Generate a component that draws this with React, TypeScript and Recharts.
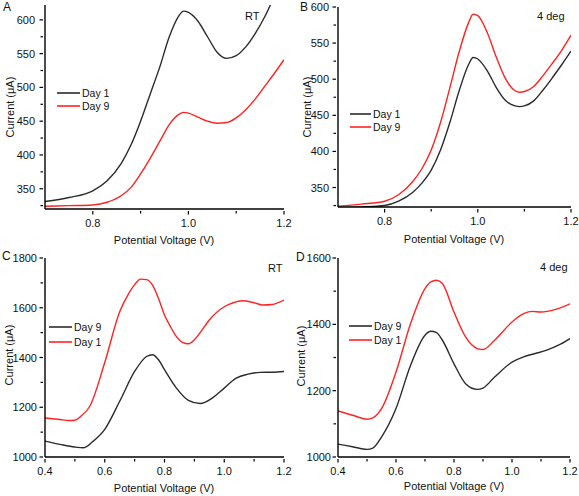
import React from 'react';
import { LineChart, Line, XAxis, YAxis } from 'recharts';

// ---------- Data ----------
// Panel A (RT, 0.7-1.2 V)
const aVolt = [0.70, 0.75, 0.80, 0.83, 0.86, 0.88, 0.90, 0.92, 0.94, 0.96, 0.98, 0.99, 1.00, 1.02, 1.04, 1.06, 1.08, 1.10, 1.12, 1.14, 1.16, 1.18, 1.20];
const aDay1 = [331, 337, 347, 362, 388, 415, 450, 490, 530, 575, 606, 613, 611, 598, 575, 552, 543, 547, 560, 580, 605, 635, 665];
const aDay9 = [324, 325, 326, 330, 340, 352, 372, 395, 420, 445, 460, 463, 462, 456, 450, 447, 448, 455, 467, 483, 502, 521, 541];

// Panel B (4 deg, 0.7-1.2 V)
const bVolt = [0.70, 0.75, 0.80, 0.83, 0.86, 0.88, 0.90, 0.92, 0.94, 0.96, 0.98, 0.99, 1.00, 1.02, 1.04, 1.06, 1.08, 1.09, 1.10, 1.12, 1.14, 1.16, 1.18, 1.20];
const bDay1 = [322, 323, 325, 331, 343, 356, 374, 402, 440, 484, 520, 530, 528, 512, 488, 470, 463, 462, 463, 470, 485, 502, 520, 539];
const bDay9 = [324, 327, 331, 340, 358, 376, 402, 440, 488, 538, 578, 590, 588, 565, 530, 500, 484, 482, 483, 490, 505, 522, 540, 561];

// Panel C (RT, 0.4-1.2 V)
const cVoltDay1 = [0.40, 0.45, 0.48, 0.50, 0.52, 0.55, 0.60, 0.65, 0.68, 0.70, 0.72, 0.74, 0.76, 0.78, 0.80, 0.82, 0.84, 0.86, 0.88, 0.90, 0.92, 0.95, 1.00, 1.03, 1.06, 1.10, 1.13, 1.16, 1.20];
const cDay1 = [1157, 1151, 1147, 1148, 1164, 1204, 1380, 1584, 1657, 1693, 1715, 1713, 1691, 1637, 1571, 1524, 1484, 1461, 1455, 1471, 1501, 1551, 1604, 1620, 1628, 1620, 1611, 1613, 1631];
const cVoltDay9 = [0.40, 0.45, 0.50, 0.53, 0.56, 0.60, 0.65, 0.70, 0.74, 0.76, 0.78, 0.80, 0.84, 0.88, 0.92, 0.96, 1.00, 1.04, 1.08, 1.12, 1.16, 1.20];
const cDay9 = [1064, 1051, 1040, 1037, 1062, 1111, 1224, 1344, 1404, 1411, 1391, 1351, 1277, 1228, 1215, 1237, 1277, 1317, 1333, 1340, 1341, 1344];

// Panel D (4 deg, 0.4-1.2 V)
const dVoltDay1 = [0.40, 0.45, 0.50, 0.52, 0.55, 0.60, 0.65, 0.70, 0.72, 0.74, 0.76, 0.80, 0.84, 0.88, 0.90, 0.94, 1.00, 1.04, 1.07, 1.10, 1.15, 1.20];
const dDay1 = [1139, 1126, 1114, 1118, 1146, 1256, 1402, 1508, 1528, 1533, 1523, 1437, 1362, 1327, 1324, 1352, 1407, 1432, 1439, 1437, 1445, 1462];
const dVoltDay9 = [0.40, 0.45, 0.50, 0.52, 0.55, 0.60, 0.65, 0.70, 0.72, 0.74, 0.76, 0.80, 0.84, 0.88, 0.90, 0.94, 1.00, 1.04, 1.08, 1.12, 1.16, 1.20];
const dDay9 = [1039, 1031, 1023, 1027, 1060, 1146, 1276, 1367, 1379, 1375, 1352, 1281, 1221, 1204, 1208, 1241, 1286, 1302, 1312, 1322, 1337, 1357];

// Ticks
const xTicksAB = [0.8, 0.9, 1.0, 1.1, 1.2];
const xMajorAB = [0.8, 1.0, 1.2];
const xTicksCD = [0.4, 0.5, 0.6, 0.7, 0.8, 0.9, 1.0, 1.1, 1.2];
const xMajorCD = [0.4, 0.6, 0.8, 1.0, 1.2];
const yTicksAB = [325, 350, 375, 400, 425, 450, 475, 500, 525, 550, 575, 600];
const yMajorAB = [350, 400, 450, 500, 550, 600];
const yTicksC = [1000, 1100, 1200, 1300, 1400, 1500, 1600, 1700, 1800];
const yMajorC = [1000, 1200, 1400, 1600, 1800];
const yTicksD = [1000, 1100, 1200, 1300, 1400, 1500, 1600];
const yMajorD = [1000, 1200, 1400, 1600];

const panelLetters = ['A', 'B', 'C', 'D'];
const conditions = ['RT', '4 deg', 'RT', '4 deg'];
const xTitle = 'Potential Voltage (V)';
const yTitle = 'Current (\u03bcA)';

const BLACK = '#2b2b2b';
const RED = '#ff2222';
const FONT = '"Liberation Sans", Arial, sans-serif';

type Series = { name: string; color: string; x: number[]; y: number[] };

const isIn = (arr: number[], v: number) => arr.some((m) => Math.abs(m - v) < 1e-6);

function Panel(props: {
  left: number; top: number; width: number; height: number;
  margin: { top: number; right: number; left: number; bottom: number };
  yWidth: number; xHeight: number;
  xDomain: [number, number]; xTicks: number[]; xMajor: number[];
  yDomain: [number, number]; yTicks: number[]; yMajor: number[];
  yGap: number;
  series: Series[];
}) {
  const { left, top, width, height, margin, yWidth, xHeight, xDomain, xTicks, xMajor, yDomain, yTicks, yMajor, yGap, series } = props;
  const renderX = (p: any) => {
    const { x, y, payload } = p;
    const v = payload.value;
    const major = isIn(xMajor, v);
    return (
      <g>
        <line x1={x} x2={x} y1={y} y2={y + (major ? 3.5 : 2.5)} stroke="#000" strokeWidth={1.2} />
        {major && (
          <text x={x} y={y + 15.5} textAnchor="middle" fontSize={11} fontFamily={FONT} fill="#111">
            {v.toFixed(1)}
          </text>
        )}
      </g>
    );
  };
  const renderY = (p: any) => {
    const { x, y, payload } = p;
    const v = payload.value;
    const major = isIn(yMajor, v);
    return (
      <g>
        <line x1={x - (major ? 3.5 : 2.5)} x2={x} y1={y} y2={y} stroke="#000" strokeWidth={1.2} />
        {major && (
          <text x={x - yGap} y={y + 4} textAnchor="end" fontSize={11} fontFamily={FONT} fill="#111">
            {String(v)}
          </text>
        )}
      </g>
    );
  };
  const axisLine = { stroke: '#000', strokeWidth: 1.4 };
  return (
    <div style={{ position: 'absolute', left, top }}>
      <LineChart width={width} height={height} margin={margin}>
        <XAxis xAxisId="b" type="number" dataKey="x" domain={xDomain} ticks={xTicks} interval={0}
          allowDataOverflow tick={renderX} tickLine={false} tickSize={0} height={xHeight} axisLine={axisLine} />
        <XAxis xAxisId="t" orientation="top" type="number" dataKey="x" domain={xDomain} allowDataOverflow
          height={0} tick={false} tickLine={false} axisLine={axisLine} />
        <YAxis yAxisId="l" type="number" domain={yDomain} ticks={yTicks} interval={0}
          allowDataOverflow tick={renderY} tickLine={false} tickSize={0} width={yWidth} axisLine={axisLine} />
        <YAxis yAxisId="r" orientation="right" type="number" domain={yDomain} allowDataOverflow
          width={0} tick={false} tickLine={false} axisLine={axisLine} />
        {series.map((s) => (
          <Line key={s.name} xAxisId="b" yAxisId="l" name={s.name}
            data={s.x.map((v, i) => ({ x: v, y: s.y[i] }))}
            dataKey="y" type="monotone" stroke={s.color} strokeWidth={1.4} dot={false}
            isAnimationActive={false} />
        ))}
      </LineChart>
    </div>
  );
}

function Legend({ x1, x2, y, gap, items }: { x1: number; x2: number; y: number; gap: number; items: Series[] }) {
  return (
    <g>
      {items.map((s, i) => (
        <g key={s.name}>
          <line x1={x1} x2={x2} y1={y + i * gap} y2={y + i * gap} stroke={s.color} strokeWidth={1.6} />
          <text x={x2 + 2} y={y + i * gap + 4} fontSize={10.5} fontFamily={FONT} fill="#111">{s.name}</text>
        </g>
      ))}
    </g>
  );
}

export default function App() {
  const aSeries: Series[] = [
    { name: 'Day 1', color: BLACK, x: aVolt, y: aDay1 },
    { name: 'Day 9', color: RED, x: aVolt, y: aDay9 },
  ];
  const bSeries: Series[] = [
    { name: 'Day 1', color: BLACK, x: bVolt, y: bDay1 },
    { name: 'Day 9', color: RED, x: bVolt, y: bDay9 },
  ];
  const cSeries: Series[] = [
    { name: 'Day 9', color: BLACK, x: cVoltDay9, y: cDay9 },
    { name: 'Day 1', color: RED, x: cVoltDay1, y: cDay1 },
  ];
  const dSeries: Series[] = [
    { name: 'Day 9', color: BLACK, x: dVoltDay9, y: dDay9 },
    { name: 'Day 1', color: RED, x: dVoltDay1, y: dDay1 },
  ];
  return (
    <div style={{ position: 'absolute', left: 0, top: 0, width: 579, height: 496, background: '#fff', fontFamily: FONT, overflow: 'hidden' }}>
      <Panel left={0} top={0} width={300} height={250} margin={{ top: 5, right: 16, left: 0, bottom: 0 }}
        yWidth={45} xHeight={41} xDomain={[0.7, 1.2]} xTicks={xTicksAB} xMajor={xMajorAB}
        yDomain={[320, 622]} yTicks={yTicksAB} yMajor={yMajorAB} yGap={8} series={aSeries} />
      <Panel left={289} top={0} width={290} height={250} margin={{ top: 7, right: 8, left: 0, bottom: 0 }}
        yWidth={49} xHeight={43} xDomain={[0.7, 1.2]} xTicks={xTicksAB} xMajor={xMajorAB}
        yDomain={[323, 600]} yTicks={yTicksAB} yMajor={yMajorAB} yGap={7} series={bSeries} />
      <Panel left={0} top={245} width={300} height={251} margin={{ top: 13, right: 16, left: 0, bottom: 0 }}
        yWidth={45} xHeight={39} xDomain={[0.4, 1.2]} xTicks={xTicksCD} xMajor={xMajorCD}
        yDomain={[1000, 1800]} yTicks={yTicksC} yMajor={yMajorC} yGap={6} series={cSeries} />
      <Panel left={289} top={245} width={290} height={251} margin={{ top: 13, right: 9, left: 0, bottom: 0 }}
        yWidth={49} xHeight={39} xDomain={[0.4, 1.2]} xTicks={xTicksCD} xMajor={xMajorCD}
        yDomain={[1000, 1600]} yTicks={yTicksD} yMajor={yMajorD} yGap={5} series={dSeries} />

      <svg width={579} height={496} style={{ position: 'absolute', left: 0, top: 0, pointerEvents: 'none' }}>
        {/* panel letters */}
        <text x={3} y={11} fontSize={12} fontFamily={FONT} fill="#111">{panelLetters[0]}</text>
        <text x={300} y={11} fontSize={12} fontFamily={FONT} fill="#111">{panelLetters[1]}</text>
        <text x={2} y={260} fontSize={12} fontFamily={FONT} fill="#111">{panelLetters[2]}</text>
        <text x={296} y={261} fontSize={12} fontFamily={FONT} fill="#111">{panelLetters[3]}</text>

        {/* condition annotations */}
        <text x={245} y={19.5} fontSize={11} fontFamily={FONT} fill="#111">{conditions[0]}</text>
        <text x={537} y={19.5} fontSize={11} fontFamily={FONT} fill="#111">{conditions[1]}</text>
        <text x={268} y={272} fontSize={11} fontFamily={FONT} fill="#111">{conditions[2]}</text>
        <text x={540} y={271} fontSize={11} fontFamily={FONT} fill="#111">{conditions[3]}</text>

        {/* x titles */}
        <text x={164} y={244} textAnchor="middle" fontSize={11} fontFamily={FONT} fill="#111">{xTitle}</text>
        <text x={454} y={243} textAnchor="middle" fontSize={11} fontFamily={FONT} fill="#111">{xTitle}</text>
        <text x={164} y={492} textAnchor="middle" fontSize={11} fontFamily={FONT} fill="#111">{xTitle}</text>
        <text x={454} y={490} textAnchor="middle" fontSize={11} fontFamily={FONT} fill="#111">{xTitle}</text>

        {/* y titles */}
        <text transform="translate(14,107) rotate(-90)" textAnchor="middle" fontSize={11} fontFamily={FONT} fill="#111">{yTitle}</text>
        <text transform="translate(311,107) rotate(-90)" textAnchor="middle" fontSize={11} fontFamily={FONT} fill="#111">{yTitle}</text>
        <text transform="translate(13,355) rotate(-90)" textAnchor="middle" fontSize={11} fontFamily={FONT} fill="#111">{yTitle}</text>
        <text transform="translate(305,356) rotate(-90)" textAnchor="middle" fontSize={11} fontFamily={FONT} fill="#111">{yTitle}</text>

        {/* legends */}
        <Legend x1={57} x2={80} y={93} gap={13} items={aSeries} />
        <Legend x1={350} x2={371} y={114} gap={13} items={bSeries} />
        <Legend x1={49} x2={72} y={327} gap={15} items={cSeries} />
        <Legend x1={349} x2={372} y={326} gap={14} items={dSeries} />
      </svg>
    </div>
  );
}
